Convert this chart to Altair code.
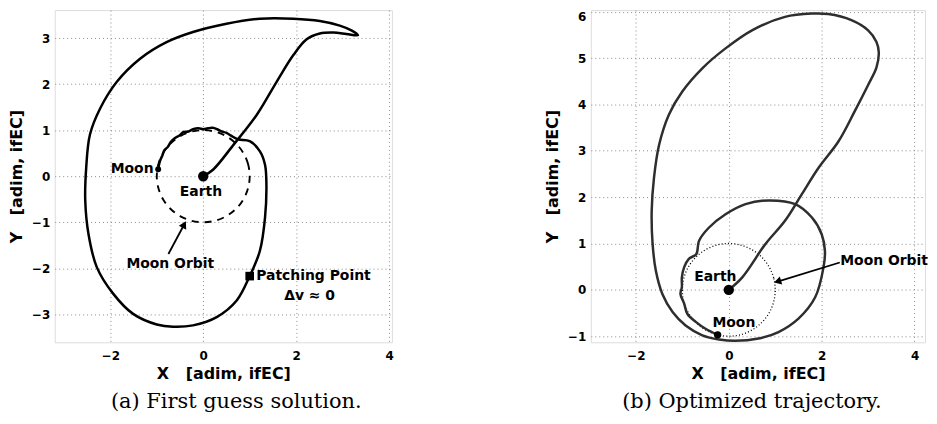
import altair as alt
import pandas as pd

# ---------------- Panel (a): first guess solution ----------------
A_X = [0.00, 0.21, 0.65, 1.15, 1.58, 1.94, 2.22, 2.51, 2.80, 3.08, 3.33, 3.20, 2.94, 2.51,
       1.94, 1.22, 0.50, -0.22, -0.79, -1.36, -1.86, -2.22, -2.44, -2.52, -2.54, -2.47,
       -2.29, -1.94, -1.51, -1.00, -0.65, -0.22, 0.29, 0.72, 1.00, 1.22, 1.33, 1.36, 1.33,
       1.22, 1.00, 0.75, 0.60, 0.50, 0.40, 0.30, 0.20, 0.10, 0.00, -0.10, -0.22, -0.32,
       -0.42, -0.52, -0.62, -0.70, -0.76, -0.84, -0.88, -0.92, -0.95, -0.97]
A_Y = [0.00, 0.14, 0.68, 1.33, 2.05, 2.63, 2.97, 3.10, 3.12, 3.09, 3.06, 3.16, 3.27, 3.37,
       3.42, 3.42, 3.31, 3.13, 2.91, 2.55, 2.05, 1.47, 0.90, 0.18, -0.54, -1.26,
       -1.98, -2.55, -2.99, -3.22, -3.27, -3.24, -3.06, -2.70, -2.17, -1.62, -0.90, -0.18, 0.25,
       0.54, 0.76, 0.80, 0.88, 0.94, 0.97, 1.02, 1.05, 1.04, 1.02, 1.04, 1.02, 0.97,
       0.96, 0.88, 0.82, 0.74, 0.64, 0.56, 0.45, 0.36, 0.26, 0.15]
A_EARTH = [0.0, 0.0]
A_MOON = [-0.97, 0.15]
A_PATCH = [1.00, -2.17]
A_ARROW_X = [-0.75, -0.41]
A_ARROW_Y = [-1.69, -1.05]
A_LABELS = ["Moon", "Earth", "Moon Orbit", "Patching Point", "\u0394v \u2248 0"]
A_LABEL_X = [-1.07, -0.05, -0.71, 1.14, 2.29]
A_LABEL_Y = [0.15, -0.34, -1.90, -2.17, -2.61]
A_LABEL_ALIGN = ["right", "center", "center", "left", "center"]

# ---------------- Panel (b): optimized trajectory ----------------
B_X = [0.00, 0.29, 0.79, 1.21, 1.57, 1.93, 2.36, 2.71, 3.00, 3.18, 3.23, 3.18, 3.00, 2.64,
       2.14, 1.79, 1.21, 0.50, -0.07, -0.57, -1.00, -1.29, -1.50, -1.61, -1.66, -1.64,
       -1.57, -1.43, -1.21, -0.93, -0.57, -0.21, 0.14, 0.64, 1.07, 1.50, 1.86, 2.04, 2.07,
       2.00, 1.79, 1.43, 0.86, 0.36, -0.07, -0.43, -0.64, -0.70, -0.86, -0.96, -1.01, -1.01,
       -1.04, -0.96, -0.89, -0.71, -0.50, -0.24]
B_Y = [0.00, 0.27, 0.99, 1.49, 2.06, 2.63, 3.20, 3.85, 4.42, 4.80, 5.12, 5.35, 5.60, 5.82,
       5.95, 5.96, 5.89, 5.60, 5.21, 4.78, 4.28, 3.78, 3.13, 2.42, 1.70, 0.99,
       0.41, -0.09, -0.48, -0.77, -0.98, -1.07, -1.10, -1.05, -0.91, -0.62, -0.16, 0.49, 0.84,
       1.20, 1.56, 1.85, 1.93, 1.85, 1.63, 1.34, 1.06, 0.77, 0.67, 0.49, 0.27, 0.06,
       -0.09, -0.30, -0.52, -0.69, -0.84, -0.97]
B_EARTH = [0.0, 0.0]
B_MOON = [-0.24, -0.97]
B_ARROW_X = [2.39, 1.05]
B_ARROW_Y = [0.59, 0.18]
B_LABELS = ["Earth", "Moon", "Moon Orbit"]
B_LABEL_X = [-0.29, 0.11, 2.40]
B_LABEL_Y = [0.27, -0.72, 0.63]
B_LABEL_ALIGN = ["center", "center", "left"]

# Moon orbit (unit circle) read at 15 degree steps
ORBIT_X = [1.0, 0.966, 0.866, 0.707, 0.5, 0.259, 0.0, -0.259, -0.5, -0.707, -0.866, -0.966,
           -1.0, -0.966, -0.866, -0.707, -0.5, -0.259, 0.0, 0.259, 0.5, 0.707, 0.866, 0.966]
ORBIT_Y = [0.0, 0.259, 0.5, 0.707, 0.866, 0.966, 1.0, 0.966, 0.866, 0.707, 0.5, 0.259,
           0.0, -0.259, -0.5, -0.707, -0.866, -0.966, -1.0, -0.966, -0.866, -0.707, -0.5, -0.259]

X_TICKS = [-2, 0, 2, 4]
A_Y_TICKS = [-3, -2, -1, 0, 1, 2, 3]
B_Y_TICKS = [-1, 0, 1, 2, 3, 4, 5, 6]
A_XDOM, A_YDOM = [-3.197, 4.062], [-3.607, 3.607]
B_XDOM, B_YDOM = [-2.97, 4.225], [-1.131, 6.036]

SANS = "DejaVu Sans"
SERIF = "DejaVu Serif"
AX = dict(grid=True, gridDash=[1, 3], gridColor="#8a8a8a", gridWidth=1, ticks=False,
          domain=False, labelFont=SANS, labelFontWeight="bold", labelFontSize=12,
          labelColor="black", titleFont=SANS, titleFontWeight="bold", titleFontSize=16,
          titleColor="black", format="d")
AXIS_TITLE_X = "X\u00a0\u00a0\u00a0[adim, ifEC]"
AXIS_TITLE_Y = "Y\u00a0\u00a0\u00a0[adim, ifEC]"


def xy(xdom, ydom, yticks):
    x = alt.X("x:Q", scale=alt.Scale(domain=xdom, nice=False, zero=False),
              axis=alt.Axis(values=X_TICKS, title=AXIS_TITLE_X, labelPadding=8,
                            titlePadding=4, **AX))
    y = alt.Y("y:Q", scale=alt.Scale(domain=ydom, nice=False, zero=False),
              axis=alt.Axis(values=yticks, title=AXIS_TITLE_Y, labelPadding=5,
                            titlePadding=7, labelFlush=4, **AX))
    return x, y


def seq(xs, ys):
    return pd.DataFrame({"x": xs, "y": ys, "i": list(range(len(xs)))})


def panel(xdom, ydom, yticks, traj_x, traj_y, traj_color, orbit_dash, orbit_width,
          earth, moon, moon_size, arrow_x, arrow_y, arrow_angle, labels, lx, ly, lalign,
          caption, cap_dx, extra=None):
    x, y = xy(xdom, ydom, yticks)
    layers = []
    layers.append(alt.Chart(seq(ORBIT_X, ORBIT_Y)).mark_line(
        color="black", strokeWidth=orbit_width, strokeDash=orbit_dash,
        interpolate="cardinal-closed", clip=True).encode(x=x, y=y, order="i:Q"))
    layers.append(alt.Chart(seq(traj_x, traj_y)).mark_line(
        color=traj_color, strokeWidth=2.5, interpolate="catmull-rom", clip=True
    ).encode(x=x, y=y, order="i:Q"))
    layers.append(alt.Chart(seq(arrow_x, arrow_y)).mark_line(
        color="black", strokeWidth=1.8).encode(x=x, y=y, order="i:Q"))
    layers.append(alt.Chart(pd.DataFrame({"x": [arrow_x[-1]], "y": [arrow_y[-1]]})).mark_point(
        shape="triangle-up", filled=True, color="black", opacity=1, size=70,
        angle=arrow_angle).encode(x=x, y=y))
    layers.append(alt.Chart(pd.DataFrame({"x": [earth[0]], "y": [earth[1]]})).mark_circle(
        color="black", opacity=1, size=110).encode(x=x, y=y))
    layers.append(alt.Chart(pd.DataFrame({"x": [moon[0]], "y": [moon[1]]})).mark_circle(
        color="black", opacity=1, size=moon_size).encode(x=x, y=y))
    if extra is not None:
        layers.append(alt.Chart(pd.DataFrame({"x": [extra[0]], "y": [extra[1]]})).mark_square(
            color="black", opacity=1, size=75).encode(x=x, y=y))
    lab = pd.DataFrame({"x": lx, "y": ly, "label": labels, "al": lalign})
    for a in ["left", "center", "right"]:
        sub = lab[lab["al"] == a]
        if len(sub):
            layers.append(alt.Chart(sub).mark_text(
                font=SANS, fontWeight="bold", fontSize=14, color="black", align=a,
                baseline="middle").encode(x=x, y=y, text="label:N"))
    return alt.layer(*layers).properties(
        title=alt.TitleParams(caption, orient="bottom", anchor="middle", frame="group",
                              font=SERIF, fontSize=21, fontWeight="normal", color="black",
                              baseline="alphabetic", offset=27, dx=cap_dx))


pa = panel(A_XDOM, A_YDOM, A_Y_TICKS, A_X, A_Y, "black", [7, 6], 1.9, A_EARTH, A_MOON, 35,
           A_ARROW_X, A_ARROW_Y, 28, A_LABELS, A_LABEL_X, A_LABEL_Y, A_LABEL_ALIGN,
           "(a) First guess solution.", 13, extra=A_PATCH).properties(width=339, height=334)
pb = panel(B_XDOM, B_YDOM, B_Y_TICKS, B_X, B_Y, "#2e2e2e", [1, 2.2], 1.3, B_EARTH, B_MOON, 55,
           B_ARROW_X, B_ARROW_Y, 253, B_LABELS, B_LABEL_X, B_LABEL_Y, B_LABEL_ALIGN,
           "(b) Optimized trajectory.", -6).properties(width=336, height=334)

chart = alt.hconcat(pa, pb, spacing=200, bounds="flush").properties(
    padding={"left": 0, "top": 0, "right": 0, "bottom": 0}
).configure_view(stroke="black", strokeWidth=1.3).configure(background="white")

chart.save("out.html", embed_options={"renderer": "svg", "actions": False})
